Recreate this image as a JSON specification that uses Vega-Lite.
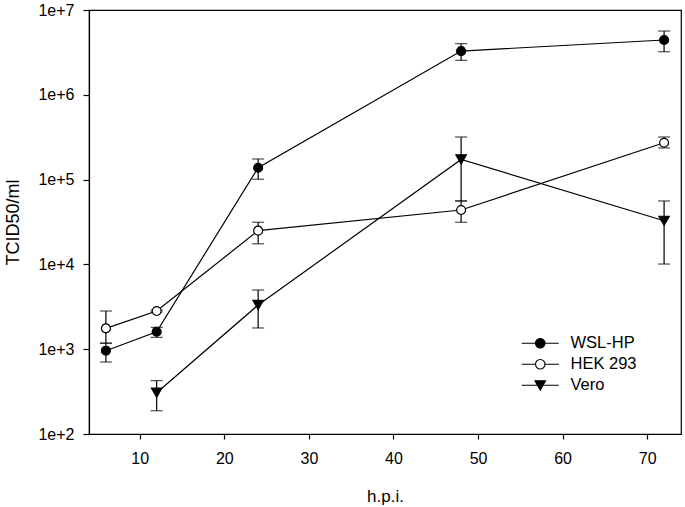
{
  "$schema": "https://vega.github.io/schema/vega-lite/v6.json",
  "width": 592,
  "height": 424,
  "autosize": {"type": "none"},
  "padding": {"left": 89, "top": 10, "right": 4, "bottom": 73},
  "background": "white",
  "config": {
    "font": "Liberation Sans",
    "view": {"stroke": "black", "strokeWidth": 1.2},
    "axis": {
      "grid": false,
      "domainColor": "black",
      "tickColor": "black",
      "labelColor": "black",
      "titleColor": "black",
      "domainWidth": 1.2,
      "tickWidth": 1.2,
      "labelFont": "Liberation Sans",
      "titleFont": "Liberation Sans",
      "titleFontWeight": "normal"
    },
    "legend": {
      "title": null,
      "orient": "none",
      "legendX": 443,
      "legendY": 325,
      "symbolSize": 100,
      "symbolStrokeWidth": 1.2,
      "symbolStrokeColor": "black",
      "symbolOpacity": 1,
      "labelFontSize": 16.5,
      "labelFont": "Liberation Sans",
      "labelColor": "black",
      "labelOffset": 22,
      "rowPadding": 4,
      "padding": 0
    }
  },
  "data": {
    "values": [
      {"series": "WSL-HP", "hpi": 6, "value": 960, "lo": 706, "hi": 1175},
      {"series": "WSL-HP", "hpi": 12, "value": 1607, "lo": 1380, "hi": 1810},
      {"series": "WSL-HP", "hpi": 24, "value": 138000, "lo": 101000, "hi": 175000},
      {"series": "WSL-HP", "hpi": 48, "value": 3280000, "lo": 2550000, "hi": 4010000},
      {"series": "WSL-HP", "hpi": 72, "value": 4430000, "lo": 3220000, "hi": 5650000},
      {"series": "HEK 293", "hpi": 6, "value": 1760, "lo": 1180, "hi": 2820},
      {"series": "HEK 293", "hpi": 12, "value": 2820, "lo": 2750, "hi": 2900},
      {"series": "HEK 293", "hpi": 24, "value": 25000, "lo": 17500, "hi": 31400},
      {"series": "HEK 293", "hpi": 48, "value": 43800, "lo": 31400, "hi": 56000},
      {"series": "HEK 293", "hpi": 72, "value": 272000, "lo": 236000, "hi": 318000},
      {"series": "Vero", "hpi": 12, "value": 307, "lo": 188, "hi": 426},
      {"series": "Vero", "hpi": 24, "value": 3320, "lo": 1780, "hi": 4990},
      {"series": "Vero", "hpi": 48, "value": 173000, "lo": 56000, "hi": 318000},
      {"series": "Vero", "hpi": 72, "value": 32700, "lo": 10100, "hi": 56000}
    ]
  },
  "encoding": {
    "x": {
      "field": "hpi",
      "type": "quantitative",
      "scale": {"domain": [4, 74], "nice": false, "zero": false},
      "axis": {
        "values": [10, 20, 30, 40, 50, 60, 70],
        "tickSize": 5,
        "labelFontSize": 16,
        "labelPadding": 11,
        "title": "h.p.i.",
        "titleFontSize": 17,
        "titlePadding": 22
      }
    },
    "y": {
      "field": "value",
      "type": "quantitative",
      "scale": {"type": "log", "domain": [100, 10000000], "nice": false},
      "axis": {
        "values": [100, 1000, 10000, 100000, 1000000, 10000000],
        "labelExpr": "'1e+' + round(log(datum.value) / LN10)",
        "tickSize": 6,
        "labelFontSize": 16,
        "labelPadding": 9,
        "title": "TCID50/ml",
        "titleFontSize": 18,
        "titlePadding": 15
      }
    }
  },
  "layer": [
    {
      "mark": {"type": "line", "color": "black", "strokeWidth": 1.2},
      "encoding": {"detail": {"field": "series"}}
    },
    {
      "mark": {
        "type": "errorbar",
        "color": "black",
        "ticks": {"size": 12, "thickness": 1.2, "color": "black"},
        "rule": {"strokeWidth": 1.2, "color": "black"}
      },
      "encoding": {
        "y": {
          "field": "lo",
          "type": "quantitative",
          "scale": {"type": "log", "domain": [100, 10000000], "nice": false},
          "axis": {
            "values": [100, 1000, 10000, 100000, 1000000, 10000000],
            "labelExpr": "'1e+' + round(log(datum.value) / LN10)",
            "tickSize": 6,
            "labelFontSize": 16,
            "labelPadding": 9,
            "title": "TCID50/ml",
            "titleFontSize": 18,
            "titlePadding": 15
          }
        },
        "y2": {"field": "hi"},
        "detail": {"field": "series"}
      }
    },
    {
      "mark": {"type": "point", "filled": true, "stroke": "black", "strokeWidth": 1.2, "opacity": 1},
      "encoding": {
        "shape": {"condition": {"test": "datum.series === 'Vero'", "value": "triangle-down"}, "value": "circle"},
        "fill": {"condition": {"test": "datum.series === 'HEK 293'", "value": "white"}, "value": "black"},
        "size": {"condition": {"test": "datum.series === 'Vero'", "value": 110}, "value": 80}
      }
    },
    {
      "mark": {"type": "point", "filled": true, "strokeWidth": 1.2, "opacity": 0},
      "encoding": {
        "shape": {
          "field": "series",
          "type": "nominal",
          "scale": {
            "domain": ["WSL-HP", "HEK 293", "Vero"],
            "range": [
              "M-3.7,0L-0.95,0M0.95,0L3.7,0M-0.95,0A0.95,0.95,0,1,1,0.95,0A0.95,0.95,0,1,1,-0.95,0Z",
              "M-3.7,0L-0.95,0M0.95,0L3.7,0M-0.95,0A0.95,0.95,0,1,1,0.95,0A0.95,0.95,0,1,1,-0.95,0Z",
              "M-3.7,0L3.7,0M-1.05,-0.9L1.05,-0.9L0,0.95Z"
            ]
          }
        },
        "fill": {
          "field": "series",
          "type": "nominal",
          "scale": {"domain": ["WSL-HP", "HEK 293", "Vero"], "range": ["black", "white", "black"]}
        },
        "stroke": {
          "field": "series",
          "type": "nominal",
          "scale": {"domain": ["WSL-HP", "HEK 293", "Vero"], "range": ["black", "black", "black"]}
        }
      }
    }
  ]
}
